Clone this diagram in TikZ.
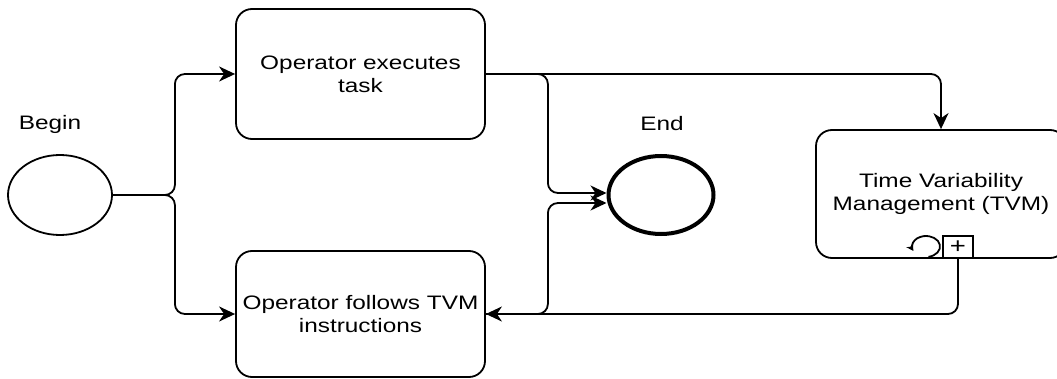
\documentclass[tikz,border=0pt]{standalone}
\usepackage{fontspec}
\newfontfamily\diagfont[FakeStretch=1.25]{Liberation Sans}
\usetikzlibrary{arrows.meta,shapes.geometric}

\begin{document}
\begin{tikzpicture}[
            x = 1pt, y = 1pt, % one unit per pixel
            > = {Stealth[length=16pt,width=15pt,inset=5pt]}, % arrow head style
            font = \diagfont\fontsize{19.5}{23}\selectfont,
            line width = 1.8pt, % line style
            activity/.style = {draw, rectangle, rounded corners=16pt, minimum width=249pt, inner sep=2pt, align=center},
            event/.style = {draw, ellipse, minimum width=104pt, minimum height=80pt},
            flow/.style = {->, rounded corners=10pt}
        ]
	\useasboundingbox (0,0) rectangle (1057,378);

	\node[event] (start) at (60,183) {};
	\node (startlbl) at (50,254) {Begin};
	\node[event, line width=4pt, minimum width=105pt, minimum height=78pt] (stop) at (661,183) {};
	\node (stoplbl) at (662,254) {End};

	\node[activity, minimum height=130pt] (task) at (360.5,304) {Operator executes\\task};
	\node[activity, minimum height=126pt] (follow) at (360.5,64) {Operator follows TVM\\instructions};
	\node[activity, minimum width=250pt, minimum height=128pt] (tvm) at (941,184) {Time Variability\\Management (TVM)};

	% sub-process markers
	\node[draw, minimum width=30pt, minimum height=22pt, inner sep=0pt, font=\diagfont\fontsize{22}{22}\selectfont] (plus) at (958,131) {+};
	\coordinate (loopc) at (926,131.5);
	\draw[-{Stealth[length=7pt,width=8pt]}] (loopc) ++(-80:14 and 10.5) arc[start angle=-80, end angle=205, x radius=14, y radius=10.5];

	\draw[flow] (start.east) -- ++(62,0) |- (task.west);
	\draw[flow] (start.east) -- ++(62,0) |- (follow.west);
	\draw[flow] (task.east) -- ++(62,0) |- ([yshift=2pt]stop.west);
	\draw[flow] (task.east) -| (tvm.north);
	\draw[flow] (plus.south) |- (follow.east);
	\draw[flow] (follow.east) -- ++(62,0) |- ([yshift=-8pt]stop.west);

\end{tikzpicture}
\end{document}
